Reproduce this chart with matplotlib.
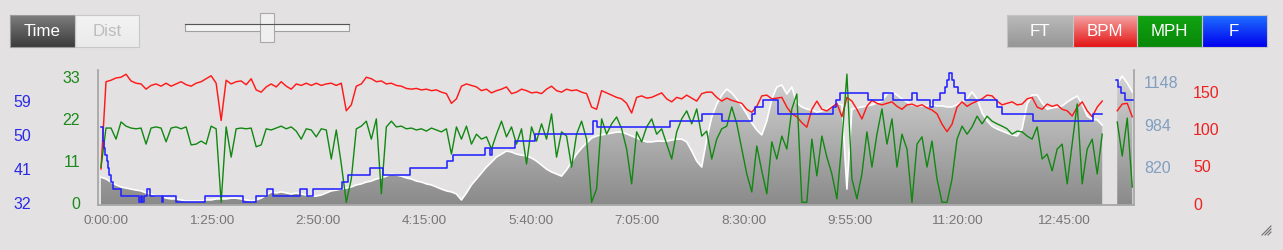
#!/usr/bin/env python
import numpy as np
import matplotlib

matplotlib.use("Agg")
from matplotlib import pyplot as plt
from matplotlib.path import Path
from matplotlib.patches import Rectangle
from matplotlib.colors import LinearSegmentedColormap
from matplotlib.transforms import ScaledTranslation

plt.rcParams["font.family"] = ["Liberation Sans", "DejaVu Sans"]

nan = np.nan

# one sample every 4 minutes, 0 .. 824 min
minutes = np.arange(0, 828, 4)

bpm = [45, 162, 164, 167, 168, 172, 163, 160, 159, 152,
       157, 159, 156, 160, 156, 159, 162, 158, 156, 160,
       162, 166, 170, 160, 110, 164, 159, 162, 163, 158,
       166, 151, 148, 155, 159, 155, 162, 156, 152, 159,
       157, 160, 157, 160, 157, 159, 160, 157, 160, 123,
       131, 156, 159, 168, 166, 162, 163, 159, 160, 157,
       156, 153, 152, 153, 151, 152, 150, 151, 148, 146,
       133, 139, 156, 159, 157, 155, 150, 152, 147, 150,
       152, 155, 146, 148, 152, 150, 147, 148, 146, 152,
       156, 150, 148, 152, 150, 151, 148, 146, 128, 125,
       150, 147, 144, 141, 139, 133, 120, 141, 143, 140,
       141, 144, 147, 139, 135, 141, 139, 144, 140, 136,
       146, 148, 148, 141, 136, 140, 137, 135, 133, 125,
       121, 129, 143, 144, 139, 140, 141, 128, 119, 115,
       107, 101, 125, 136, 125, 123, 128, 133, 115, 141,
       136, 125, 112, 129, 137, 133, 131, 133, 135, 129,
       125, 131, 132, 129, 131, 127, 124, 119, 105, 95,
       105, 128, 135, 129, 133, 136, 139, 144, 143, 136,
       131, 133, 135, 131, 132, 139, 141, 128, 125, 132,
       129, 131, 125, 123, 116, 128, 135, 123, 115, 128,
       136, nan, nan, 123, 132, 133, 115]

mph = [9.2, 19.4, 19.4, 16.5, 21.0, 19.9, 19.4, 19.2, 19.4, 15.2,
       19.4, 19.7, 19.4, 15.8, 19.4, 19.7, 19.2, 19.7, 15.0, 15.2,
       16.0, 15.2, 19.9, 19.2, 0.0, 19.7, 11.8, 19.2, 19.4, 19.2,
       19.4, 14.5, 15.0, 19.2, 18.9, 19.4, 19.9, 19.2, 19.7, 18.6,
       16.5, 19.2, 18.9, 17.1, 19.2, 18.9, 11.3, 18.9, 10.0, 0.0,
       6.1, 19.2, 19.9, 21.2, 16.5, 21.8, 2.2, 19.7, 21.2, 19.7,
       19.9, 19.2, 19.4, 18.9, 19.2, 18.6, 19.4, 18.9, 18.4, 19.2,
       12.6, 19.7, 16.5, 19.9, 15.2, 17.8, 16.5, 17.1, 13.9, 17.8,
       21.2, 17.1, 19.7, 15.2, 19.2, 10.0, 19.7, 16.0, 20.5, 16.5,
       23.1, 11.8, 18.4, 17.3, 9.2, 17.8, 21.2, 16.5, 0.0, 3.5,
       21.8, 17.8, 20.5, 22.3, 19.2, 13.9, 4.8, 18.4, 15.8, 19.7,
       21.8, 17.8, 19.2, 15.2, 11.3, 18.4, 21.8, 23.9, 20.5, 24.4,
       17.3, 18.6, 11.3, 16.5, 19.2, 19.9, 24.9, 20.5, 13.9, 7.4,
       2.7, 14.7, 8.2, 2.2, 15.8, 11.3, 17.3, 13.9, 24.4, 28.3,
       0.0, 0.0, 16.5, 6.9, 17.3, 11.8, 7.4, 0.9, 15.8, 33.5,
       6.1, 0.9, 7.4, 18.4, 9.2, 17.8, 24.4, 15.2, 21.8, 9.2,
       17.8, 13.9, 0.0, 15.2, 17.1, 9.2, 16.0, 6.1, 0.0, 0.0,
       6.1, 16.5, 19.9, 17.8, 19.7, 22.5, 20.5, 22.5, 21.2, 20.5,
       19.9, 19.2, 17.8, 18.6, 18.4, 17.3, 16.5, 19.7, 11.3, 12.6,
       8.2, 13.9, 15.2, 4.8, 15.2, 25.7, 4.8, 13.9, 16.5, 7.4,
       17.8, nan, nan, 21.0, 12.1, 22.0, 4.0]

ft = [777, 770, 758, 747, 739, 735, 731, 727, 724, 716,
      712, 704, 704, 696, 693, 693, 689, 685, 685, 685,
      685, 689, 689, 693, 693, 693, 696, 696, 693, 689,
      685, 689, 696, 708, 720, 716, 720, 716, 712, 716,
      712, 708, 704, 704, 708, 716, 724, 727, 731, 735,
      739, 747, 751, 758, 762, 770, 774, 781, 789, 785,
      781, 774, 770, 762, 758, 751, 747, 739, 731, 724,
      720, 712, 689, 716, 747, 770, 793, 816, 835, 855,
      866, 878, 874, 866, 862, 859, 851, 839, 824, 808,
      797, 789, 781, 805, 835, 866, 889, 909, 928, 936,
      940, 944, 947, 951, 951, 944, 936, 928, 920, 913,
      913, 916, 916, 916, 920, 924, 924, 913, 878, 839,
      816, 924, 1009, 1059, 1094, 1117, 1102, 1079, 1052, 1021,
      986, 959, 940, 994, 1079, 1125, 1133, 1098, 1125, 1063,
      1048, 1040, 1036, 1028, 1032, 1040, 1052, 1063, 1056, 731,
      1040, 1044, 1048, 1052, 1056, 1063, 1071, 1098, 1106, 1094,
      1079, 1067, 1056, 1052, 1052, 1052, 1056, 1052, 1052, 1048,
      1048, 1056, 1067, 1079, 1106, 1079, 1025, 994, 974, 963,
      955, 947, 940, 936, 963, 1059, 1094, 1094, 1063, 1040,
      1044, 1048, 1052, 1067, 1079, 1090, 1059, 1013, 1001, 998,
      978, nan, nan, 1137, 1167, 1140, 1106]

# temperature only changes in whole-degree C steps, so keep the change points
temp_min = [0, 1.6, 2.4, 3.2, 4.8, 5.6, 6.4, 8.0, 9.6, 16.0,
            30.4, 32.0, 32.8, 34.4, 36.8, 39.2, 48.7, 49.5, 59.9, 83.1,
            113.5, 123.8, 132.6, 137.4, 159.0, 164.6, 169.4, 192.6, 197.4, 214.9,
            225.3, 246.9, 276.5, 281.2, 306.8, 310.8, 312.4, 330.8, 346.8, 393.1,
            396.3, 454.6, 480.2, 496.2, 520.1, 522.5, 528.9, 540.9, 584.9, 587.3,
            590.4, 612.8, 624.8, 632.8, 648.0, 652.0, 662.4, 664.8, 670.4, 674.4,
            676.0, 677.6, 679.9, 681.5, 684.7, 690.3, 715.9, 719.9, 744.7, 792.6,
            799.8, 811.0, 812.6, 815.0, 818.2, 825.0]
temp_f = [51.8, 48.2, 46.4, 44.6, 42.8, 41.0, 39.2, 37.4, 35.6, 33.8,
          32.0, 33.8, 32.0, 33.8, 35.6, 33.8, 32.0, 33.8, 32.0, 33.8,
          32.0, 33.8, 35.6, 33.8, 35.6, 33.8, 35.6, 37.4, 39.2, 41.0,
          39.2, 41.0, 42.8, 44.6, 46.4, 44.6, 46.4, 48.2, 50.0, 53.6,
          51.8, 53.6, 55.4, 53.6, 55.4, 57.2, 59.0, 55.4, 57.2, 59.0,
          60.8, 59.0, 60.8, 59.0, 60.8, 59.0, 57.2, 59.0, 60.8, 62.6,
          64.4, 66.2, 64.4, 62.6, 60.8, 59.0, 57.2, 55.4, 53.6, 55.4,
          nan, 64.4, 62.6, 60.8, 59.0, 59.0]

x_ticks = [0, 85, 170, 255, 340, 425, 510, 595, 680, 765]
x_labels = ["0:00:00", "1:25:00", "2:50:00", "4:15:00", "5:40:00",
            "7:05:00", "8:30:00", "9:55:00", "11:20:00", "12:45:00"]
ft_ticks = [820, 984, 1148]
bpm_ticks = [0, 50, 100, 150]
mph_ticks = [0, 11, 22, 33]
f_ticks = [32, 41, 50, 59]

legend_names = ["FT", "BPM", "MPH", "F"]
legend_top = ["#bababa", "#f5a5a5", "#12a412", "#1f70ff"]
legend_bottom = ["#969696", "#e41414", "#088808", "#0000ee"]

BG = "#e3e1e2"
W, H = 1283, 251

fig = plt.figure(figsize=(W / 100, H / 100), dpi=100)
fig.patch.set_facecolor(BG)

# ---- toolbar widgets (pixel coordinates) ----
ui = fig.add_axes([0, 0, 1, 1])
ui.set_axis_off()
ui.patch.set_visible(False)


def gradient_box(l, r, top, bottom, c_top, c_bot, edge):
    cmap = LinearSegmentedColormap.from_list("", [c_top, c_bot])
    ui.imshow(np.linspace(0, 1, 64).reshape(-1, 1), extent=[l, r, bottom, top],
              cmap=cmap, aspect="auto", interpolation="bilinear")
    ui.add_patch(Rectangle((l, top), r - l, bottom - top, fill=False, ec=edge, lw=0.8))


gradient_box(10, 75, 16, 48, "#7d7d7d", "#3c3c3c", "#9a9a9a")
gradient_box(75, 139, 16, 48, "#f3f3f3", "#eaeaea", "#c8c8c8")
ui.text(42.5, 31.5, "Time", color="white", fontsize=12.2, ha="center", va="center")
ui.text(107, 31.5, "Dist", color="#bdbdbd", fontsize=12.2, ha="center", va="center")

ui.add_patch(Rectangle((185, 25), 164, 7, fc="#f3f3f3", ec="#a0a0a0", lw=0.8))
ui.plot([185, 349], [25.4, 25.4], color="#555555", lw=0.8)
ui.add_patch(Rectangle((260, 14), 14, 29, fc="#efefef", ec="#a9a9a9", lw=0.8))

edges = [1007, 1072.5, 1137, 1201.5, 1267]
for k, name in enumerate(legend_names):
    gradient_box(edges[k], edges[k + 1], 16, 48, legend_top[k], legend_bottom[k], "#c4c4c4")
    ui.text((edges[k] + edges[k + 1]) / 2, 31.5, name, color="white",
            fontsize=12.2, ha="center", va="center")

for k in range(3):
    ui.plot([1262 + 3 * k, 1271], [236, 227 + 3 * k], color="#6e6e6e", lw=0.8)

ui.set_xlim(0, W)
ui.set_ylim(H, 0)

# ---- chart ----
ax = fig.add_axes([98 / W, 1 - 206 / H, (1134 - 98) / W, (206 - 71) / H])
ax.set_facecolor("none")
ax_bpm = ax.twinx()
ax_mph = ax.twinx()
ax_f = ax.twinx()

x_lo, x_hi = -2.4, 825.4
ft_lo, ft_hi = 669.5, 1190.6

# elevation: gray gradient area with a white top line
area = ax.fill_between(minutes, ft_lo, ft, facecolor="none", edgecolor="none")
clip = Path.make_compound_path(*area.get_paths())
shade = LinearSegmentedColormap.from_list("shade", ["#8a8a8a", "#d6d6d6"])
im = ax.imshow(np.linspace(0, 1, 256).reshape(-1, 1), extent=[x_lo, x_hi, ft_lo, ft_hi],
               origin="lower", aspect="auto", cmap=shade, zorder=1)
im.set_clip_path(clip, ax.transData)
ax.plot(minutes, ft, color="white", lw=1.2, zorder=2)

ax_bpm.plot(minutes, bpm, color="#ff1a1a", lw=1.05)
ax_mph.plot(minutes, mph, color="#118811", lw=1.0)
ax_f.plot(temp_min, temp_f, color="#2323ff", lw=1.15, drawstyle="steps-post")

ax.set_xlim(x_lo, x_hi)
ax.set_ylim(ft_lo, ft_hi)
ax_bpm.set_ylim(-3.35, 177.7)
ax_mph.set_ylim(-0.71, 34.57)
ax_f.set_ylim(31.29, 67.0)

ax.yaxis.tick_right()
ax.set_yticks(ft_ticks)
ax.tick_params(axis="y", length=0, pad=7.2, labelsize=11.5, labelcolor="#809fc0")
ax.set_xticks(x_ticks, x_labels)
ax.tick_params(axis="x", length=0, pad=6.6, labelsize=9.7, labelcolor="#777777")
shift = ScaledTranslation(4.5 / 100, 0, fig.dpi_scale_trans)
for lbl in ax.get_xticklabels():
    lbl.set_transform(lbl.get_transform() + shift)

for s in ("left", "bottom", "right"):
    ax.spines[s].set_color("#a8a8a8")
    ax.spines[s].set_linewidth(1.3)
ax.spines["top"].set_visible(False)

for a in (ax_bpm, ax_mph, ax_f):
    a.patch.set_visible(False)
    for s in a.spines.values():
        s.set_visible(False)

ax_bpm.yaxis.tick_right()
ax_bpm.set_yticks(bpm_ticks)
ax_bpm.tick_params(axis="y", length=0, pad=42.5, labelsize=11.5, labelcolor="#ee2020")

ax_mph.yaxis.tick_left()
ax_mph.set_yticks(mph_ticks)
ax_mph.tick_params(axis="y", length=0, pad=13, labelsize=11.5, labelcolor="#1a8a1a")

ax_f.yaxis.tick_left()
ax_f.set_yticks(f_ticks)
ax_f.tick_params(axis="y", length=0, pad=48.2, labelsize=11.5, labelcolor="#2a2ae6")

fig.savefig("out.png", dpi=100, facecolor=BG)
